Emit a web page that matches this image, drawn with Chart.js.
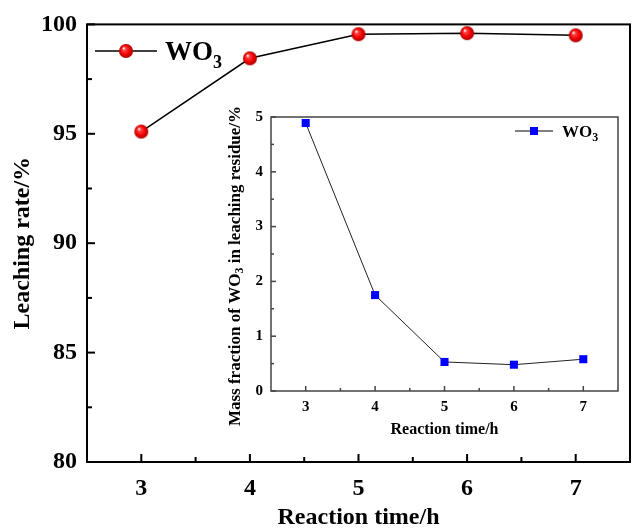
<!DOCTYPE html>
<html>
<head>
<meta charset="utf-8">
<script src="https://cdn.jsdelivr.net/npm/chart.js@4.4.0/dist/chart.umd.min.js"></script>
<style>
  html, body { margin: 0; padding: 0; background: #fff; }
  #wrap { position: relative; width: 632px; height: 528px; }
  #mainChart { position: absolute; left: 0; top: 0; }
  #insetChart { position: absolute; left: 225px; top: 100px; }
</style>
</head>
<body>
<div id="wrap">
  <canvas id="mainChart" width="632" height="528"></canvas>
  <canvas id="insetChart" width="407" height="345"></canvas>
</div>
<script>
// data
const hours = [3, 4, 5, 6, 7];
const leachingRate = [95.1, 98.45, 99.55, 99.6, 99.5];
const residueWO3 = [4.89, 1.75, 0.53, 0.48, 0.58];

const xTicks = [3, 4, 5, 6, 7];
const mainYTicks = [80, 85, 90, 95, 100];
const insetYTicks = [0, 1, 2, 3, 4, 5];

const SERIF = "'Liberation Serif', 'Times New Roman', serif";
Chart.defaults.font.family = SERIF;
Chart.defaults.color = '#000';

// shiny red ball used as the marker of the main series
function makeSphere(r) {
  const c = document.createElement('canvas');
  c.width = c.height = 2 * r + 2;
  const g = c.getContext('2d');
  const cx = r + 1, cy = r + 1;
  const grad = g.createRadialGradient(cx - r * 0.35, cy - r * 0.4, r * 0.05, cx, cy, r);
  grad.addColorStop(0, '#ffffff');
  grad.addColorStop(0.22, '#ff4040');
  grad.addColorStop(0.65, '#f00000');
  grad.addColorStop(1, '#a80000');
  g.fillStyle = grad;
  g.beginPath();
  g.arc(cx, cy, r, 0, Math.PI * 2);
  g.fill();
  return c;
}
const sphere = makeSphere(7);

// "WO" + subscript 3
function drawWO3(ctx, x, y, size, subSize, drop) {
  ctx.font = 'bold ' + size + 'px ' + SERIF;
  ctx.textBaseline = 'alphabetic';
  ctx.textAlign = 'left';
  ctx.fillText('WO', x, y);
  const w = ctx.measureText('WO').width;
  ctx.font = 'bold ' + subSize + 'px ' + SERIF;
  ctx.fillText('3', x + w, y + drop);
}

// box frame + inward ticks (major on tick values, minor half way)
const framePlugin = {
  id: 'frame',
  beforeDatasetsDraw(chart, args, opts) {
    const { ctx, chartArea: a, scales } = chart;
    ctx.save();
    ctx.strokeStyle = opts.color;
    ctx.lineWidth = opts.width;
    ctx.strokeRect(a.left, a.top, a.right - a.left, a.bottom - a.top);
    const line = (x1, y1, x2, y2) => {
      ctx.beginPath(); ctx.moveTo(x1, y1); ctx.lineTo(x2, y2); ctx.stroke();
    };
    const xs = scales.x, ys = scales.y;
    xs.ticks.forEach((t, i) => {
      const px = xs.getPixelForValue(t.value);
      line(px, a.bottom, px, a.bottom - opts.major);
      if (i < xs.ticks.length - 1) {
        const m = xs.getPixelForValue((t.value + xs.ticks[i + 1].value) / 2);
        line(m, a.bottom, m, a.bottom - opts.minor);
      }
    });
    ys.ticks.forEach((t, i) => {
      const py = ys.getPixelForValue(t.value);
      line(a.left, py, a.left + opts.major, py);
      if (i < ys.ticks.length - 1) {
        const m = ys.getPixelForValue((t.value + ys.ticks[i + 1].value) / 2);
        line(a.left, m, a.left + opts.minor, m);
      }
    });
    ctx.restore();
  }
};

// legend: line with marker, then WO3 text
const legendPlugin = {
  id: 'wo3Legend',
  afterDraw(chart, args, o) {
    const ctx = chart.ctx;
    ctx.save();
    ctx.strokeStyle = o.lineColor;
    ctx.lineWidth = o.lineWidth;
    ctx.beginPath();
    ctx.moveTo(o.x, o.y);
    ctx.lineTo(o.x + o.len, o.y);
    ctx.stroke();
    const mx = o.x + o.len / 2;
    if (o.marker === 'sphere') {
      ctx.drawImage(sphere, mx - sphere.width / 2, o.y - sphere.height / 2);
    } else {
      ctx.fillStyle = '#0000ff';
      ctx.fillRect(mx - 4, o.y - 4, 8, 8);
    }
    ctx.fillStyle = '#000';
    drawWO3(ctx, o.x + o.len + o.gap, o.y + o.size * 0.33, o.size, o.subSize, o.drop);
    ctx.restore();
  }
};

// rotated y title of the inset with the subscript
const insetTitlePlugin = {
  id: 'insetTitle',
  afterDraw(chart, args, o) {
    if (!o.cx) return;
    const ctx = chart.ctx;
    const parts = [
      ['Mass fraction of WO', 17, 0],
      ['3', 12, 4],
      [' in leaching residue/%', 17, 0]
    ];
    ctx.save();
    ctx.translate(o.cx, o.cy);
    ctx.rotate(-Math.PI / 2);
    ctx.fillStyle = '#000';
    ctx.textBaseline = 'middle';
    ctx.textAlign = 'left';
    let total = 0;
    parts.forEach(p => { ctx.font = 'bold ' + p[1] + 'px ' + SERIF; total += ctx.measureText(p[0]).width; });
    let x = -total / 2;
    parts.forEach(p => {
      ctx.font = 'bold ' + p[1] + 'px ' + SERIF;
      ctx.fillText(p[0], x, p[2] + 1);
      x += ctx.measureText(p[0]).width;
    });
    ctx.restore();
  }
};

const toPoints = (xs, ys) => xs.map((h, i) => ({ x: h, y: ys[i] }));

// keep the plot box where the figure has it
const fixX = h => s => { s.height = h; s.paddingLeft = 0; s.paddingRight = 0; };

new Chart(document.getElementById('mainChart'), {
  type: 'line',
  data: {
    datasets: [{
      label: 'WO3',
      data: toPoints(hours, leachingRate),
      borderColor: '#000',
      borderWidth: 1.5,
      pointStyle: sphere,
      pointRadius: 7,
      tension: 0
    }]
  },
  options: {
    responsive: false,
    animation: false,
    layout: { autoPadding: false, padding: { top: 23, right: 2, left: 0, bottom: 0 } },
    plugins: {
      legend: { display: false },
      tooltip: { enabled: false },
      frame: { color: '#000', width: 2, major: 8, minor: 5 },
      wo3Legend: { x: 95, y: 51, len: 62, gap: 8, size: 27, subSize: 18, drop: 8, lineColor: '#000', lineWidth: 1.5, marker: 'sphere' },
      insetTitle: {}
    },
    scales: {
      x: {
        type: 'linear', min: 2.5, max: 7.5,
        afterBuildTicks: s => { s.ticks = xTicks.map(v => ({ value: v })); },
        afterFit: fixX(66),
        grid: { display: false, drawTicks: false },
        border: { display: false },
        ticks: { padding: 12, font: { size: 24, weight: 'bold' }, color: '#000' },
        title: { display: true, text: 'Reaction time/h', color: '#000',
                 font: { size: 24, weight: 'bold', lineHeight: 1 }, padding: { top: 0, bottom: -2 } }
      },
      y: {
        min: 80, max: 100,
        afterBuildTicks: s => { s.ticks = mainYTicks.map(v => ({ value: v })); },
        afterFit: s => { s.width = 87; },
        grid: { display: false, drawTicks: false },
        border: { display: false },
        ticks: { padding: 10, font: { size: 24, weight: 'bold' }, color: '#000' },
        title: { display: true, text: 'Leaching rate/%', color: '#000',
                 font: { size: 24, weight: 'bold', lineHeight: 1 }, padding: { top: 11, bottom: 0 } }
      }
    }
  },
  plugins: [framePlugin, legendPlugin, insetTitlePlugin]
});

new Chart(document.getElementById('insetChart'), {
  type: 'line',
  data: {
    datasets: [{
      label: 'WO3',
      data: toPoints(hours, residueWO3),
      borderColor: '#222',
      borderWidth: 1,
      pointStyle: 'rect',
      pointRadius: 5.7,
      pointBackgroundColor: '#0000ff',
      pointBorderColor: '#0000ff',
      pointBorderWidth: 0,
      tension: 0
    }]
  },
  options: {
    responsive: false,
    animation: false,
    layout: { autoPadding: false, padding: { top: 12, right: 14, left: 0, bottom: 0 } },
    plugins: {
      legend: { display: false },
      tooltip: { enabled: false },
      frame: { color: '#444', width: 1.5, major: 5, minor: 3 },
      wo3Legend: { x: 290, y: 31, len: 38, gap: 9, size: 17, subSize: 12, drop: 4, lineColor: '#000', lineWidth: 1, marker: 'rect' },
      insetTitle: { cx: 10, cy: 166 }
    },
    scales: {
      x: {
        type: 'linear', min: 2.5, max: 7.5,
        afterBuildTicks: s => { s.ticks = xTicks.map(v => ({ value: v })); },
        afterFit: fixX(54),
        grid: { display: false, drawTicks: false },
        border: { display: false },
        ticks: { padding: 7, font: { size: 15, weight: 'bold' }, color: '#000' },
        title: { display: true, text: 'Reaction time/h', color: '#000',
                 font: { size: 16, weight: 'bold', lineHeight: 1 }, padding: { top: 0, bottom: 7 } }
      },
      y: {
        min: 0, max: 5,
        afterBuildTicks: s => { s.ticks = insetYTicks.map(v => ({ value: v })); },
        afterFit: s => { s.width = 46; },
        grid: { display: false, drawTicks: false },
        border: { display: false },
        ticks: { padding: 8, font: { size: 15, weight: 'bold' }, color: '#000' }
      }
    }
  },
  plugins: [framePlugin, legendPlugin, insetTitlePlugin]
});
</script>
</body>
</html>
